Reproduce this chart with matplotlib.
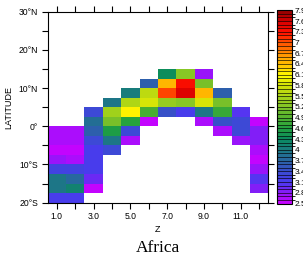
import numpy as np
import matplotlib
matplotlib.use("Agg")
import matplotlib.pyplot as plt
from matplotlib.colors import LinearSegmentedColormap, ListedColormap, BoundaryNorm
import matplotlib.colorbar as mcolorbar

# grid: 12 "Z" columns, latitude bands of 2.5 deg from 20S up to 15N
z_edges = np.arange(0.5, 13.0, 1.0)
lat_edges = np.arange(-20.0, 15.01, 2.5)

nan = np.nan
# rows go from the southern-most band (-20..-17.5) upward, columns are Z = 1..12
vals = [
    [3.10, 3.15, nan,  nan,  nan,  nan,  nan,  nan,  nan,  nan,  nan,  nan ],
    [3.90, 4.10, 2.50, nan,  nan,  nan,  nan,  nan,  nan,  nan,  nan,  2.80],
    [3.90, 3.75, 2.90, nan,  nan,  nan,  nan,  nan,  nan,  nan,  nan,  3.00],
    [3.20, 3.20, 3.10, nan,  nan,  nan,  nan,  nan,  nan,  nan,  nan,  2.75],
    [2.70, 2.60, 3.10, nan,  nan,  nan,  nan,  nan,  nan,  nan,  nan,  2.55],
    [2.50, 2.50, 3.10, 3.35, nan,  nan,  nan,  nan,  nan,  nan,  nan,  2.65],
    [2.60, 2.65, 3.35, 3.90, 2.65, nan,  nan,  nan,  nan,  nan,  2.75, 2.80],
    [2.60, 2.65, 3.60, 4.50, 3.35, nan,  nan,  nan,  nan,  2.65, 3.35, 2.80],
    [nan,  nan,  3.80, 5.10, 4.60, 2.50, nan,  nan,  2.60, 3.45, 3.35, 2.50],
    [nan,  nan,  3.35, 5.45, 6.10, 4.85, 3.40, 3.15, 3.95, 4.75, 3.00, nan ],
    [nan,  nan,  nan,  3.95, 5.55, 5.85, 5.35, 5.25, 5.85, 5.10, nan,  nan ],
    [nan,  nan,  nan,  nan,  4.00, 5.60, 7.05, 7.55, 6.45, 3.65, nan,  nan ],
    [nan,  nan,  nan,  nan,  nan,  3.65, 6.45, 7.35, 5.10, nan,  nan,  nan ],
    [nan,  nan,  nan,  nan,  nan,  nan,  4.30, 5.20, 2.75, nan,  nan,  nan ],
]
data = np.ma.masked_invalid(np.array(vals))

levels = np.round(np.arange(2.5, 7.91, 0.1), 2)
cbar_ticks = np.round(np.arange(2.5, 7.91, 0.3), 2)

# colour anchors
anchors = [
    (2.5, "#cc00ff"), (2.8, "#8a1af8"), (3.1, "#4a3af0"), (3.4, "#3a4cd0"),
    (3.7, "#2a64a4"), (4.0, "#1a7a80"), (4.3, "#0a8a60"), (4.6, "#20a040"),
    (4.9, "#50b030"), (5.2, "#80c428"), (5.5, "#a8d418"), (5.8, "#d0e008"),
    (6.1, "#ffff00"), (6.4, "#ffc000"), (6.7, "#ff9000"), (7.0, "#ff5000"),
    (7.3, "#ff1000"), (7.6, "#d80000"), (7.9, "#900000"),
]
pos = [(v - 2.5) / 5.4 for v, c in anchors]
smooth = LinearSegmentedColormap.from_list("ncl_like", list(zip(pos, [c for v, c in anchors])))
centers = (levels[:-1] + levels[1:]) / 2
cmap = ListedColormap([smooth((c - 2.5) / 5.4) for c in centers])
cmap.set_bad("white")
norm = BoundaryNorm(levels, cmap.N, clip=True)

plt.rcParams["font.family"] = ["Liberation Sans", "DejaVu Sans"]
plt.rcParams["axes.linewidth"] = 0.8

fig = plt.figure(figsize=(3.03, 2.57), dpi=100)
ax = fig.add_axes([0.1574, 0.2113, 0.7281, 0.7432])
ax.pcolormesh(z_edges, lat_edges, data, cmap=cmap, norm=norm)
ax.set_xlim(0.5, 12.5)
ax.set_ylim(-20, 30)

ax.set_xticks([1, 3, 5, 7, 9, 11])
ax.set_xticklabels(["1.0", "3.0", "5.0", "7.0", "9.0", "11.0"])
ax.set_xticks(np.arange(1, 13), minor=True)
ax.set_yticks([-20, -10, 0, 10, 20, 30])
ax.set_yticklabels(["20°S", "10°S", "0°", "10°N", "20°N", "30°N"])
ax.set_yticks(np.arange(-20, 31, 5), minor=True)
ax.tick_params(which="both", direction="out", length=4.3, width=0.8,
               top=True, right=True, labelsize=6.2, pad=2.5)
ax.set_xlabel("Z", fontsize=6.5, labelpad=3)
ax.set_ylabel("LATITUDE", fontsize=6.5, labelpad=4)

fig.text(0.522, 0.005, "Africa", family="Liberation Serif", fontsize=12.5,
         ha="center", va="bottom")

cax = fig.add_axes([0.915, 0.208, 0.048, 0.752])
cb = mcolorbar.ColorbarBase(cax, cmap=cmap, norm=norm, boundaries=levels,
                            ticks=cbar_ticks, drawedges=True, spacing="uniform")
cb.dividers.set_linewidth(0.45)
cb.outline.set_linewidth(0.8)
cb.set_ticklabels(["%g" % t for t in cbar_ticks])
cax.tick_params(length=0, labelsize=6, pad=2)

fig.savefig("out.png", dpi=100)
